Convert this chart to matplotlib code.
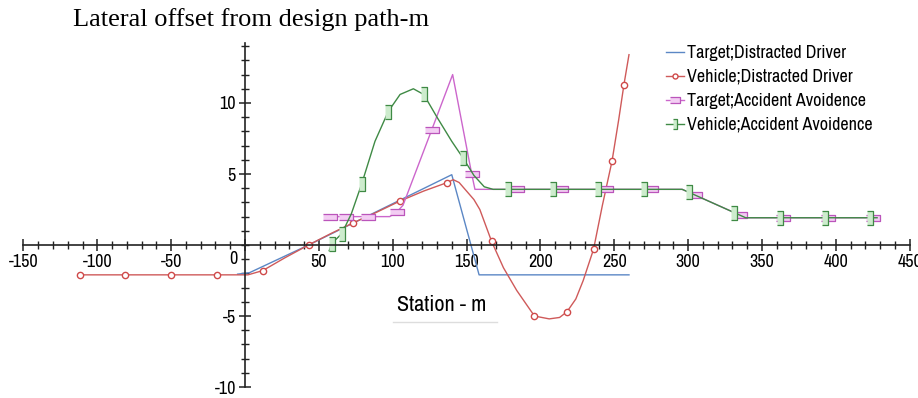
import matplotlib
matplotlib.use("Agg")
import matplotlib.pyplot as plt
from matplotlib.ticker import FixedLocator, FuncFormatter
from matplotlib.lines import Line2D

# ===== data =====
blue_x = [-5, 3, 43, 140, 158.5, 260]
blue_y = [-2.05, -1.95, 0, 4.95, -2.1, -2.1]

red_x = [-112, -81, -50, -19, 2, 12, 27, 43, 58, 73, 89, 105, 121, 137, 141,
         145, 150, 155, 159, 167, 175, 184, 196, 206, 213, 218, 224, 229, 236, 242, 248.5, 253, 256.6, 260]
red_y = [-2.1, -2.1, -2.1, -2.1, -2.1, -1.8, -0.9, 0, 0.8, 1.55, 2.3, 3.1, 3.8, 4.4, 4.6,
         4.4, 3.8, 3.2, 2.5, 0.25, -1.6, -3.2, -5.0, -5.2, -5.1, -4.7, -3.8, -2.5, -0.3, 2.8, 5.9, 8.8, 11.3, 13.4]
red_marks = [0, 1, 2, 3, 5, 7, 9, 11, 13, 19, 22, 25, 28, 30, 32]

mag_x = [57.5, 68.4, 83.6, 98, 103, 107, 126.4, 140.6, 153.5, 155.7, 184, 214, 244.4,
         274.7, 296, 304.7, 335, 339, 364.5, 395, 425, 428]
mag_y = [2.0, 2.0, 2.0, 2.0, 2.35, 2.8, 8.1, 12.0, 5.0, 3.92, 3.92, 3.92, 3.92,
         3.92, 3.92, 3.52, 2.11, 1.92, 1.92, 1.92, 1.92, 1.92]
mag_marks = [0, 1, 2, 4, 6, 8, 10, 11, 12, 13, 15, 16, 18, 19, 20]

green_x = [57, 58.7, 65.5, 72, 79, 88, 97, 105, 114, 121, 130, 140, 147.8, 155, 162, 168,
           178.3, 208.6, 239.2, 270.4, 296, 300.8, 331.3, 339, 362.2, 392.7, 423.2, 428]
green_y = [-0.4, 0.1, 0.8, 2.2, 4.3, 7.3, 9.4, 10.6, 11.0, 10.6, 9.0, 7.3, 6.1, 4.9, 4.1, 3.92,
           3.92, 3.92, 3.92, 3.92, 3.92, 3.7, 2.28, 1.92, 1.92, 1.92, 1.92, 1.92]
green_marks = [1, 2, 4, 6, 9, 12, 16, 17, 18, 19, 21, 22, 24, 25, 26]

labels = ["Target;Distracted Driver", "Vehicle;Distracted Driver",
          "Target;Accident Avoidence", "Vehicle;Accident Avoidence"]

x_major = list(range(-150, 451, 50))
x_minor = list(range(-150, 451, 10))
y_major = [-10, -5, 5, 10]
y_minor = list(range(-10, 15))

# ===== style =====
plt.rcParams["font.family"] = ["Archivo Narrow", "DejaVu Sans"]
plt.rcParams["axes.unicode_minus"] = False

tall_rect = [(-0.45, -1), (0.45, -1), (0.45, 1), (-0.45, 1)]
wide_rect = [(-1, -0.5), (1, -0.5), (1, 0.5), (-1, 0.5)]

fig = plt.figure(figsize=(9.18, 3.98), dpi=100)
ax = fig.add_axes([0, 0, 1, 1])
ax.set_xlim(-165.9, 455.7)
ax.set_ylim(-10.77, 17.25)
ax.patch.set_alpha(0)

ax.plot(blue_x, blue_y, color="#5b87c5", lw=1.0, label=labels[0])
ax.plot(red_x, red_y, color="#cf5a5a", lw=1.0, marker="o", markevery=red_marks,
        ms=4.5, mfc="white", mec="#cf4a4a", mew=1.0, label=labels[1])
ax.plot(mag_x, mag_y, color="#cc66cc", lw=1.0, marker=wide_rect, markevery=mag_marks,
        ms=9.5, mfc="#f3cdf3", mec="#bb55bb", mew=0.9, label=labels[2])
ax.plot(green_x, green_y, color="#3f8a45", lw=1.0, marker=tall_rect, markevery=green_marks,
        ms=9.5, mfc="#cdeccd", mec="#3f8a45", mew=0.9, label=labels[3])

# axes through origin
for s in ["top", "right"]:
    ax.spines[s].set_visible(False)
ax.spines["left"].set_position(("data", 0))
ax.spines["bottom"].set_position(("data", 0))
ax.spines["left"].set_bounds(-10, 14.2)
ax.spines["bottom"].set_bounds(-150, 450)
for s in ["left", "bottom"]:
    ax.spines[s].set_linewidth(1.2)
    ax.spines[s].set_color("#222222")

ax.xaxis.set_major_locator(FixedLocator(x_major))
ax.xaxis.set_minor_locator(FixedLocator(x_minor))
ax.yaxis.set_major_locator(FixedLocator(y_major))
ax.yaxis.set_minor_locator(FixedLocator(y_minor))
ax.xaxis.set_major_formatter(FuncFormatter(lambda v, p: "" if v == 0 else f"{v:.0f}"))
ax.tick_params(which="major", direction="inout", length=9, width=1.1, color="#222222",
               labelsize=13, pad=2)
ax.tick_params(which="minor", direction="inout", length=6, width=1.0, color="#222222")
ax.annotate("0", xy=(0, 0), xytext=(-12, -14), textcoords="offset pixels",
            ha="center", va="center", fontsize=13)

# title, axis label
fig.text(73 / 918, 1 - 20 / 398, "Lateral offset from design path-m",
         family="Liberation Serif", fontsize=19, ha="left", va="center")
fig.text(442 / 918, 1 - 305 / 398, "Station - m", fontsize=16, weight="medium",
         ha="center", va="center")
fig.add_artist(Line2D([393 / 918, 497 / 918], [1 - 322 / 398, 1 - 322 / 398],
                      color="#dddddd", lw=1.0))

ax.legend(loc="upper left", bbox_to_anchor=(666 / 918, 1 - 45 / 398),
          bbox_transform=fig.transFigure, frameon=False, fontsize=13,
          handlelength=1.0, handletextpad=0.15, labelspacing=0.44,
          borderpad=0, borderaxespad=0, markerscale=0.8)

fig.savefig("out.png", dpi=100)
